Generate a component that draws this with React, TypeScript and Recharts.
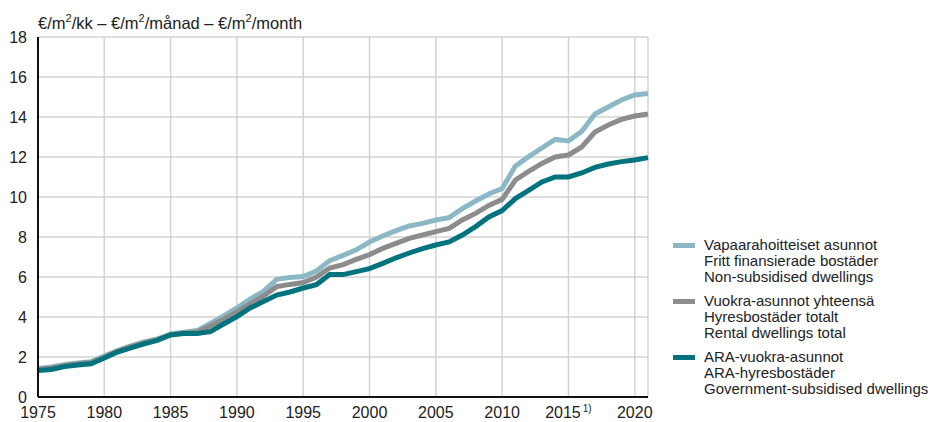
import React from "react";
import { LineChart, Line, XAxis, YAxis, CartesianGrid } from "recharts";

const years = [
  1975, 1976, 1977, 1978, 1979, 1980, 1981, 1982, 1983, 1984, 1985, 1986, 1987, 1988, 1989, 1990,
  1991, 1992, 1993, 1994, 1995, 1996, 1997, 1998, 1999, 2000, 2001, 2002, 2003, 2004, 2005, 2006,
  2007, 2008, 2009, 2010, 2011, 2012, 2013, 2014, 2015, 2016, 2017, 2018, 2019, 2020, 2021,
];
const nonSubsidised = [
  1.42, 1.5, 1.62, 1.7, 1.76, 2.05, 2.32, 2.55, 2.75, 2.9, 3.15, 3.24, 3.32, 3.68, 4.05, 4.45,
  4.9, 5.28, 5.88, 5.98, 6.02, 6.3, 6.82, 7.08, 7.36, 7.75, 8.05, 8.32, 8.55, 8.68, 8.85, 8.97,
  9.42, 9.8, 10.15, 10.42, 11.55, 12.02, 12.45, 12.88, 12.8, 13.28, 14.15, 14.5, 14.85, 15.1, 15.18,
];
const rentalTotal = [
  1.38, 1.45, 1.58, 1.66, 1.72, 2.0, 2.3, 2.52, 2.72, 2.87, 3.12, 3.2, 3.25, 3.55, 3.88, 4.25,
  4.65, 5.05, 5.52, 5.63, 5.72, 6.0, 6.45, 6.62, 6.88, 7.12, 7.43, 7.68, 7.93, 8.1, 8.27, 8.43,
  8.85, 9.18, 9.58, 9.88, 10.85, 11.28, 11.68, 12.0, 12.1, 12.5, 13.25, 13.6, 13.88, 14.05, 14.15,
];
const araRental = [
  1.32, 1.38, 1.52, 1.6, 1.66, 1.95, 2.25, 2.46, 2.66, 2.83, 3.1, 3.18, 3.18, 3.27, 3.65, 4.02,
  4.45, 4.77, 5.1, 5.25, 5.45, 5.62, 6.12, 6.12, 6.27, 6.42, 6.68, 6.96, 7.2, 7.42, 7.6, 7.75,
  8.1, 8.52, 9.0, 9.32, 9.92, 10.33, 10.75, 11.0, 11.0, 11.2, 11.48, 11.65, 11.77, 11.85, 11.97,
];
const xTicks = [1975, 1980, 1985, 1990, 1995, 2000, 2005, 2010, 2015, 2020];
const yTicks = [0, 2, 4, 6, 8, 10, 12, 14, 16, 18];

const series = [
  { key: "nonSubsidised", color: "#8bb8c4", lines: ["Vapaarahoitteiset asunnot", "Fritt finansierade bostäder", "Non-subsidised dwellings"] },
  { key: "rentalTotal", color: "#8c8c8c", lines: ["Vuokra-asunnot yhteensä", "Hyresbostäder totalt", "Rental dwellings total"] },
  { key: "araRental", color: "#00737f", lines: ["ARA-vuokra-asunnot", "ARA-hyresbostäder", "Government-subsidised dwellings"] },
];

const data = years.map((y, i) => ({
  year: y,
  nonSubsidised: nonSubsidised[i],
  rentalTotal: rentalTotal[i],
  araRental: araRental[i],
}));

const FONT = "'Liberation Sans', Arial, sans-serif";
const TEXT = "#222";

const XTick = (props: any) => {
  const { x, y, payload } = props;
  return (
    <text x={x} y={y} dy="0.71em" textAnchor="middle" fontSize={16} fontFamily={FONT} fill={TEXT}>
      {payload.value}
      {payload.value === 2015 ? (
        <tspan fontSize={10} dy="-0.6em" dx="2">1)</tspan>
      ) : null}
    </text>
  );
};

const LegendBox = () => (
  <div style={{ position: "absolute", left: 665, top: 229, fontFamily: FONT, fontSize: 15, color: TEXT }}>
    {series.map((s, i) => (
      <div key={s.key} style={{ display: "flex", alignItems: "flex-start", marginBottom: i < 2 ? 8 : 0 }}>
        <div style={{ width: 22, height: 5, background: s.color, marginTop: 6, marginRight: 9, flexShrink: 0 }} />
        <div style={{ lineHeight: "16px" }}>
          {s.lines.map((l) => (
            <div key={l} style={{ whiteSpace: "nowrap" }}>{l}</div>
          ))}
        </div>
      </div>
    ))}
  </div>
);

export default function App() {
  return (
    <div style={{ position: "relative", width: 920, height: 414 }}>
      <div
        style={{
          position: "absolute",
          left: 30,
          top: 0,
          fontFamily: FONT,
          fontSize: 16.5,
          color: TEXT,
          whiteSpace: "nowrap",
          lineHeight: "20px",
        }}
      >
        €/m<sup style={{ fontSize: 11 }}>2</sup>/kk – €/m<sup style={{ fontSize: 11 }}>2</sup>/månad – €/m
        <sup style={{ fontSize: 11 }}>2</sup>/month
      </div>
      <LineChart width={920} height={414} data={data} margin={{ top: 29, right: 280, bottom: 0, left: 0 }}>
        <CartesianGrid stroke="#d3d3d3" strokeWidth={1.5} />
        <XAxis
          dataKey="year"
          type="number"
          domain={[1975, 2021]}
          ticks={xTicks}
          height={25}
          tickLine={false}
          tickSize={6}
          tickMargin={4}
          axisLine={{ stroke: "#111", strokeWidth: 2 }}
          tick={<XTick />}
          interval={0}
        />
        <YAxis
          type="number"
          domain={[0, 18]}
          ticks={yTicks}
          width={30}
          tickLine={false}
          tickMargin={5}
          axisLine={{ stroke: "#111", strokeWidth: 2 }}
          tick={{ fontSize: 16, fontFamily: FONT, fill: TEXT }}
          interval={0}
        />
        {series.map((s) => (
          <Line
            key={s.key}
            dataKey={s.key}
            stroke={s.color}
            strokeWidth={5}
            dot={false}
            activeDot={false}
            type="linear"
            isAnimationActive={false}
          />
        ))}
      </LineChart>
      <LegendBox />
    </div>
  );
}
